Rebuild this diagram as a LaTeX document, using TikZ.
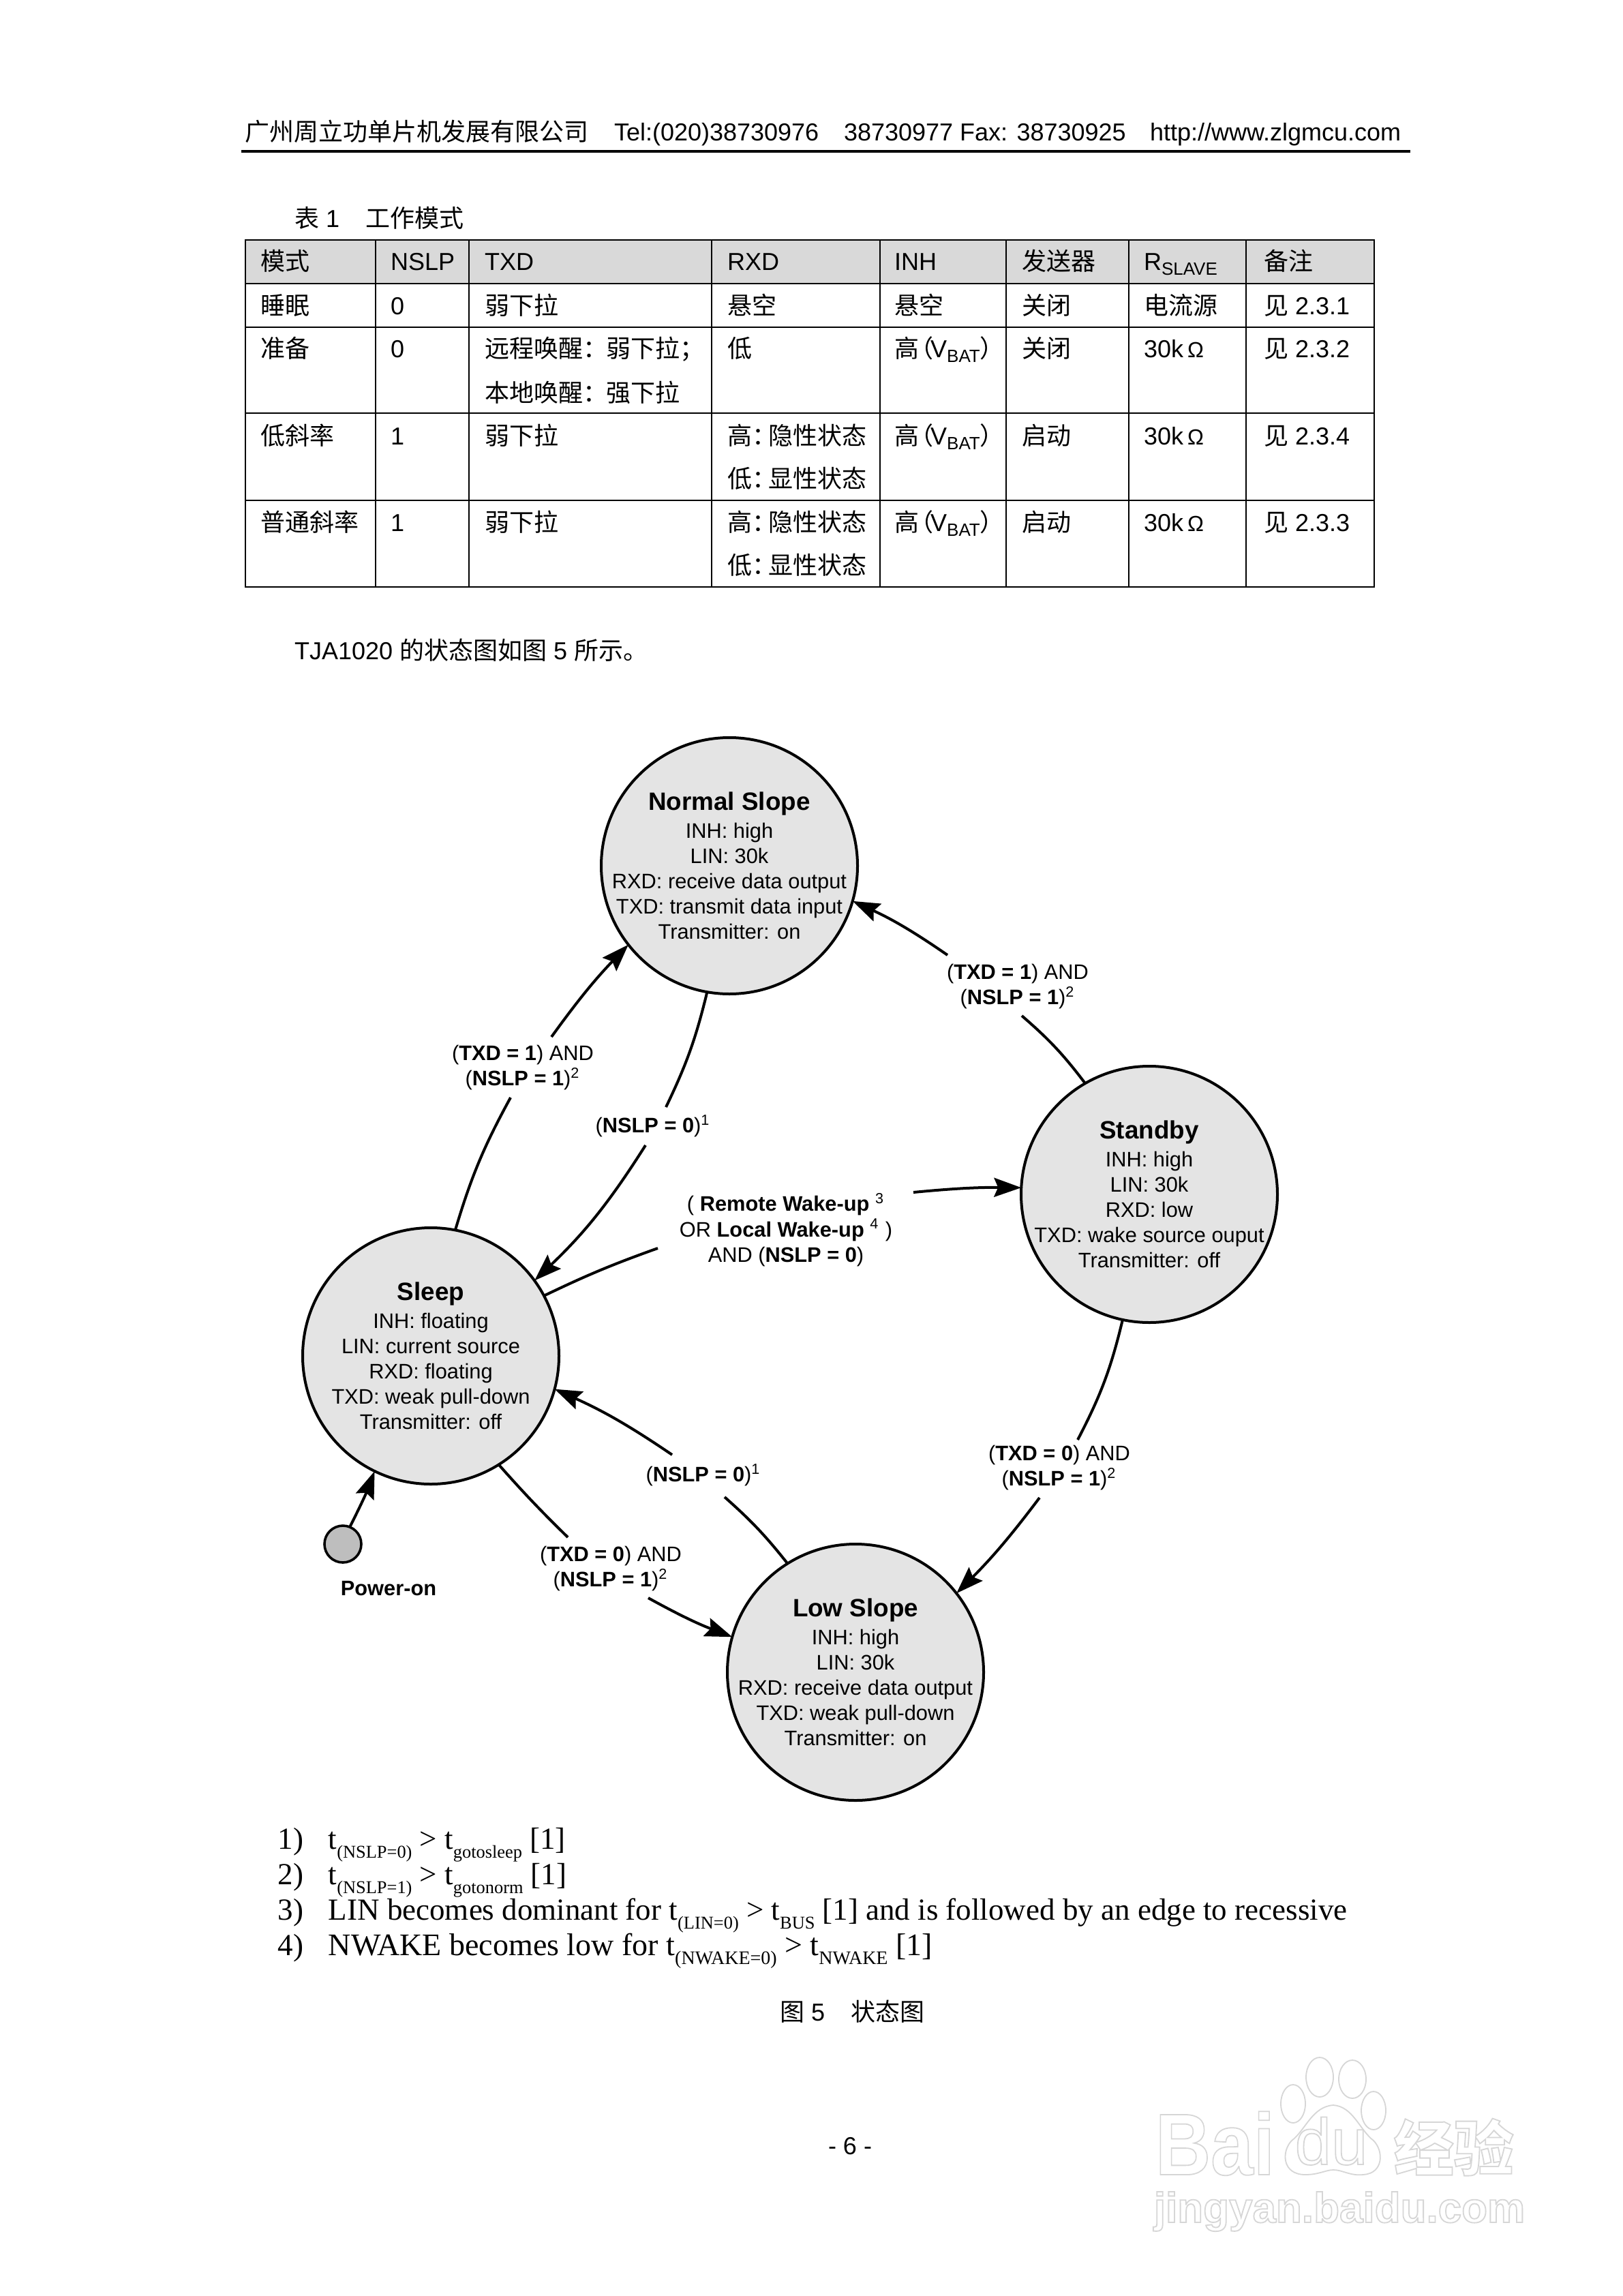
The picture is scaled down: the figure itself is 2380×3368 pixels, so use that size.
\documentclass[tikz,border=0pt]{standalone}
\usepackage{fontspec}
\usepackage{graphicx}
\usetikzlibrary{arrows.meta}
\setmainfont{Liberation Sans}
\newfontfamily\cjk{Noto Sans CJK SC}
\newfontfamily\timesf{Liberation Serif}
\newcommand{\C}[1]{{\cjk #1}}
\newcommand{\cc}{{\cjk ：}\kern-3pt}
\newcommand{\ccw}{{\cjk ：}\kern-0.5pt}
\newcommand{\tsub}[1]{\raisebox{-0.3em}{\fontsize{6.6}{7}\selectfont #1}}
\newcommand{\tsubw}[1]{\raisebox{-0.3em}{\fontsize{7}{7}\selectfont #1}}
\newcommand{\vbat}{\C{高}\kern-3.7pt\C{（}\kern-1pt V\raisebox{-0.2em}{\fontsize{6.5}{7}\selectfont BAT}\C{）}}
\newcommand{\kohm}{30k\kern1.5pt{\fontsize{8}{8}\selectfont Ω}}
\newcommand{\wmt}[1]{\special{pdf:code 2 Tr 0.45 w 0.84 G}#1\special{pdf:code 0 Tr}}
\definecolor{statefill}{HTML}{E4E4E4}
\definecolor{headfill}{HTML}{D9D9D9}
\definecolor{dotfill}{HTML}{BEBEBE}
\definecolor{wmline}{HTML}{D6D6D6}
\tikzset{
  x=0.25pt,y=-0.25pt,
  cell/.style={anchor=base west,inner sep=0pt,outer sep=0pt,yshift=-0.3pt,font=\fontsize{9}{11}\selectfont},
  headt/.style={cell,font=\fontsize{9}{11}\selectfont},
  state/.style={circle,draw=black,line width=1pt,fill=statefill,minimum size=94pt,inner sep=0pt,outer sep=0pt},
  stext/.style={align=center,inner sep=0pt,font=\fontsize{7.7}{9.25}\selectfont},
  elab/.style={align=center,inner sep=0pt,font=\fontsize{7.7}{9.25}\selectfont},
  conn/.style={line width=1pt,draw=black},
  arr/.style={conn,-{Stealth[length=10pt,width=7pt,inset=1.5pt]}},
  foot/.style={anchor=base west,inner sep=0pt,font=\timesf\fontsize{11.25}{13}\selectfont},
  tline/.style={line width=0.6pt,draw=black},
  wm/.style={draw=wmline,line width=0.45pt,fill=white},
  wmtext/.style={anchor=base west,inner sep=0pt,text=white,font=\bfseries}
}
\newcommand{\stitle}[1]{{\fontsize{9.2}{9.25}\selectfont\bfseries #1}\\[1pt]}
\begin{document}
\begin{tikzpicture}
\useasboundingbox (0,0) rectangle (2380,3368);
\fill[white] (0,0) rectangle (2380,3368);

% header
\node[cell] (hz) at (359,205) {\C{广州周立功单片机发展有限公司}};
\node[cell] (h1) at (901,205) {Tel:(020)38730976};
\node[cell] (h2) at (1238,205) {38730977 Fax: 38730925};
\node[cell] (h3) at (1687,205) {http://www.zlgmcu.com};
\draw[line width=1pt] (354,222) -- (2069,222);

\node[cell] (tcap) at (432,332) {\C{表}\kern2.5pt 1\hspace{9.5pt}\C{工作模式}};

% table
\fill[headfill] (360,352) rectangle (2016,416);
\draw[tline] (360,352) rectangle (2016,861);
\foreach \yy in {416,480,606,734} \draw[tline] (360,\yy) -- (2016,\yy);
\foreach \xx in {551,688,1044,1291,1476,1656,1828} \draw[tline] (\xx,352) -- (\xx,861);

\node[headt] (a1) at (382,395) {\C{模式}};
\node[headt] (a2) at (573,395) {NSLP};
\node[headt] (a3) at (711,395) {TXD};
\node[headt] (a4) at (1067,395) {RXD};
\node[headt] (a5) at (1312,395) {INH};
\node[headt] (a6) at (1499,395) {\C{发送器}};
\node[headt] (a7) at (1678,395) {R\raisebox{-0.2em}{\fontsize{6.5}{7}\selectfont SLAVE}};
\node[headt] (a8) at (1854,395) {\C{备注}};

\node[cell] (b1) at (382,460) {\C{睡眠}};
\node[cell] (b2) at (573,460) {0};
\node[cell] (b3) at (711,460) {\C{弱下拉}};
\node[cell] (b4) at (1067,460) {\C{悬空}};
\node[cell] (b5) at (1312,460) {\C{悬空}};
\node[cell] (b6) at (1499,460) {\C{关闭}};
\node[cell] (b7) at (1678,460) {\C{电流源}};
\node[cell] (b8) at (1854,460) {\C{见} 2.3.1};

\node[cell] (c1) at (382,523) {\C{准备}};
\node[cell] (c2) at (573,523) {0};
\node[cell] (c3) at (711,523) {\C{远程唤醒}\ccw\C{弱下拉；}};
\node[cell] (c3b) at (711,588) {\C{本地唤醒}\ccw\C{强下拉}};
\node[cell] (c4) at (1067,523) {\C{低}};
\node[cell] (c5) at (1312,523) {\vbat};
\node[cell] (c6) at (1499,523) {\C{关闭}};
\node[cell] (c7) at (1678,523) {\kohm};
\node[cell] (c8) at (1854,523) {\C{见} 2.3.2};

\node[cell] (d1) at (382,651) {\C{低斜率}};
\node[cell] (d2) at (573,651) {1};
\node[cell] (d3) at (711,651) {\C{弱下拉}};
\node[cell] (d4) at (1067,651) {\C{高}\cc\C{隐性状态}};
\node[cell] (d4b) at (1067,714) {\C{低}\cc\C{显性状态}};
\node[cell] (d5) at (1312,651) {\vbat};
\node[cell] (d6) at (1499,651) {\C{启动}};
\node[cell] (d7) at (1678,651) {\kohm};
\node[cell] (d8) at (1854,651) {\C{见} 2.3.4};

\node[cell] (e1) at (382,778) {\C{普通斜率}};
\node[cell] (e2) at (573,778) {1};
\node[cell] (e3) at (711,778) {\C{弱下拉}};
\node[cell] (e4) at (1067,778) {\C{高}\cc\C{隐性状态}};
\node[cell] (e4b) at (1067,841) {\C{低}\cc\C{显性状态}};
\node[cell] (e5) at (1312,778) {\vbat};
\node[cell] (e6) at (1499,778) {\C{启动}};
\node[cell] (e7) at (1678,778) {\kohm};
\node[cell] (e8) at (1854,778) {\C{见} 2.3.3};

\node[cell] (intro) at (432,966) {TJA1020 \C{的状态图如图} 5 \C{所示。}};

% states
\node[state] (ns) at (1070,1270) {};
\node[state] (sb) at (1686,1752) {};
\node[state] (sl) at (632,1989) {};
\node[state] (ls) at (1255,2453) {};
\node[circle,draw=black,line width=0.9pt,fill=dotfill,minimum size=13.5pt,inner sep=0pt,outer sep=0pt] (po) at (503,2265) {};

\node[stext] (nst) at (ns.center) {\stitle{Normal Slope}INH: high\\LIN: 30k\\RXD: receive data output\\TXD: transmit data input\\Transmitter: on};
\node[stext] (sbt) at (sb.center) {\stitle{Standby}INH: high\\LIN: 30k\\RXD: low\\TXD: wake source ouput\\Transmitter: off};
\node[stext] (slt) at (sl.center) {\stitle{Sleep}INH: floating\\LIN: current source\\RXD: floating\\TXD: weak pull-down\\Transmitter: off};
\node[stext] (lst) at (ls.center) {\stitle{Low Slope}INH: high\\LIN: 30k\\RXD: receive data output\\TXD: weak pull-down\\Transmitter: on};

\node[anchor=center,inner sep=0pt,font=\fontsize{7.7}{9.25}\selectfont\bfseries] (pot) at (570,2330) {Power-on};

% edge labels
\node[elab] (l1) at (767,1566) {(\textbf{TXD = 1}) AND\\(\textbf{NSLP = 1})\textsuperscript{2}};
\node[elab] (l2) at (958,1652) {(\textbf{NSLP = 0})\textsuperscript{1}};
\node[elab] (l3) at (1493,1447) {(\textbf{TXD = 1}) AND\\(\textbf{NSLP = 1})\textsuperscript{2}};
\node[elab] (l4) at (1153,1804) {( \textbf{Remote Wake-up} \textsuperscript{3}\\OR \textbf{Local Wake-up} \textsuperscript{4} )\\AND (\textbf{NSLP = 0})};
\node[elab] (l5) at (1554,2153) {(\textbf{TXD = 0}) AND\\(\textbf{NSLP = 1})\textsuperscript{2}};
\node[elab] (l6) at (1032,2164) {(\textbf{NSLP = 0})\textsuperscript{1}};
\node[elab] (l7) at (896,2301) {(\textbf{TXD = 0}) AND\\(\textbf{NSLP = 1})\textsuperscript{2}};

% free ends of the connectors beside the labels
\coordinate (g1a) at (749,1610); \coordinate (g1b) at (809,1521);
\coordinate (g2a) at (977,1624); \coordinate (g2b) at (947,1680);
\coordinate (g3a) at (1499,1490); \coordinate (g3b) at (1390,1401);
\coordinate (g4a) at (965,1831); \coordinate (g4b) at (1340,1749);
\coordinate (g5a) at (1581,2112); \coordinate (g5b) at (1525,2197);
\coordinate (g6a) at (1063,2196); \coordinate (g6b) at (986,2134);
\coordinate (g7a) at (833,2255); \coordinate (g7b) at (951,2344);

\draw[conn] (sl.79.7) to[bend left=6] (g1a);
\draw[arr] (g1b) to[bend left=4] (ns.218.8);
\draw[conn] (ns.260.7) to[bend left=6] (g2a);
\draw[arr] (g2b) to[bend left=7] (sl.36.7);
\draw[conn] (sb.120.9) to[bend right=6] (g3a);
\draw[arr] (g3b) to[bend right=5] (ns.-16.8);
\draw[conn] (sl.28.9) to[bend left=3] (g4a);
\draw[arr] (g4b) to[bend left=3] (sb.177);
\draw[conn] (sb.258) to[bend left=7] (g5a);
\draw[arr] (g5b) to[bend left=4] (ls.38);
\draw[conn] (ls.122) to[bend right=5] (g6a);
\draw[arr] (g6b) to[bend right=5] (sl.-15);
\draw[conn] (sl.-58) to[bend right=2] (g7a);
\draw[arr] (g7b) to[bend right=4] (ls.164.4);
\draw[arr] (po.68.6) to[bend right=3] (sl.244);

% footnotes
\node[foot] (f1n) at (407,2712) {1)};
\node[foot] (f1) at (481,2712) {t\tsub{(NSLP=0)} > t\tsub{gotosleep} [1]};
\node[foot] (f2n) at (407,2764) {2)};
\node[foot] (f2) at (481,2764) {t\tsub{(NSLP=1)} > t\tsub{gotonorm} [1]};
\node[foot] (f3n) at (407,2816) {3)};
\node[foot] (f3) at (481,2816) {LIN becomes dominant for t\tsub{(LIN=0)} > t\tsub{BUS} [1] and is followed by an edge to recessive};
\node[foot] (f4n) at (407,2868) {4)};
\node[foot,font=\timesf\fontsize{11.5}{13}\selectfont] (f4) at (481,2868) {NWAKE becomes low for t\tsubw{(NWAKE=0)} > t\tsubw{NWAKE} [1]};

\node[cell] (cap) at (1144,2963) {\C{图}\kern2.5pt 5\hspace{9.5pt}\C{状态图}};
\node[anchor=base,inner sep=0pt,font=\fontsize{9}{11}\selectfont] (pg) at (1247,3160) {- 6 -};

% watermark
\draw[wm] (1897,3086) ellipse [x radius=18,y radius=28];
\draw[wm] (1936,3047) ellipse [x radius=20,y radius=29];
\draw[wm] (1984,3050) ellipse [x radius=20,y radius=28];
\draw[wm] (2015,3096) ellipse [x radius=18,y radius=28];
\draw[wm] (1956,3088) .. controls (1925,3090) and (1915,3125) .. (1895,3140) .. controls (1880,3155) and (1880,3190) .. (1915,3190) .. controls (1935,3190) and (1945,3183) .. (1956,3183) .. controls (1970,3183) and (1980,3192) .. (2000,3190) .. controls (2030,3188) and (2030,3155) .. (2015,3140) .. controls (1995,3125) and (1985,3090) .. (1956,3088) -- cycle;
\node[wmtext,font=\bfseries\fontsize{32}{36}\selectfont] (wm1) at (1694,3190) {\wmt{\scalebox{.88}[1]{Bai}}};
\node[anchor=base,inner sep=0pt,text=white,font=\fontsize{24}{28}\selectfont] (wm2) at (1953,3175) {\wmt{du}};
\node[wmtext,font=\cjk\bfseries\fontsize{22}{26}\selectfont] (wm3) at (2044,3184) {\wmt{经验}};
\node[wmtext,font=\bfseries\fontsize{15.5}{20}\selectfont] (wm4) at (1692,3260) {\wmt{jingyan.baidu.com}};
\end{tikzpicture}
\end{document}
